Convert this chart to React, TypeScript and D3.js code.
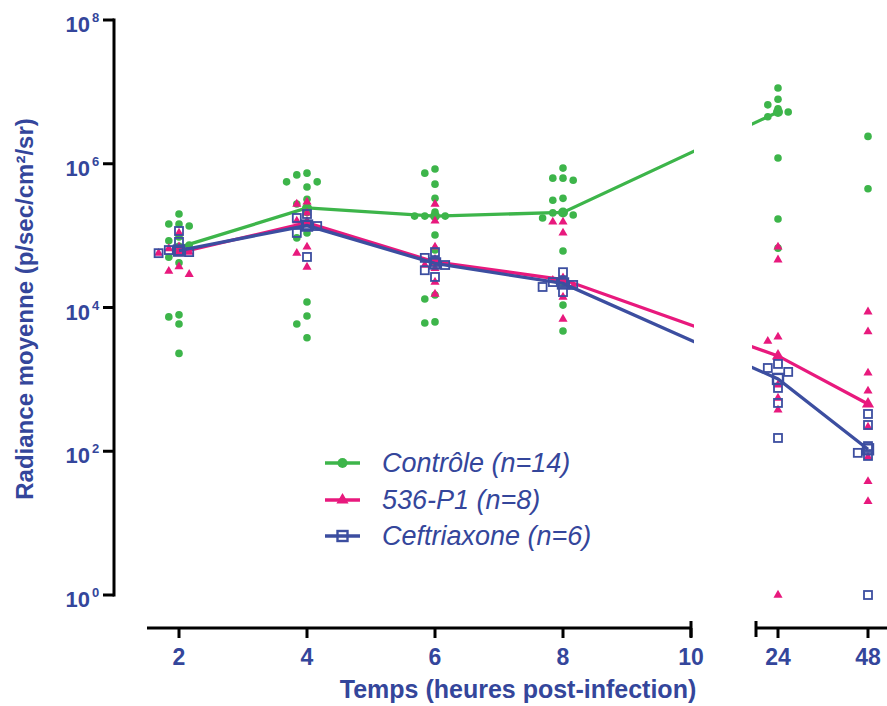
import React from 'react';
import * as d3 from 'd3';

// ---------- data ----------
const timePoints = [2, 4, 6, 8, 24, 48];
const xTicksEarly = [2, 4, 6, 8, 10];
const xTicksLate = [24, 48];
const yTickExponents = [0, 2, 4, 6, 8];

// Contrôle (n=14) – one array of individual radiances per time point
const controle: number[][] = [
  [2.0e5, 1.45e5, 1.36e5, 1.45e5, 9.6e4, 8.5e4, 7.4e4, 6.3e4, 5.0e4, 4.2e4, 7.9e3, 7.4e3, 5.9e3, 2.3e3],
  [7.4e5, 7.0e5, 5.6e5, 5.6e5, 4.75e5, 3.2e5, 2.75e5, 2.1e5, 1.09e5, 9.3e4, 1.19e4, 7.6e3, 5.9e3, 3.8e3],
  [8.45e5, 7.4e5, 5.2e5, 3.3e5, 2.13e5, 1.87e5, 1.87e5, 1.87e5, 1.02e5, 6.3e4, 1.49e4, 1.31e4, 6.3e3, 6.1e3],
  [8.7e5, 6.3e5, 6.3e5, 5.9e5, 3.3e5, 3.1e5, 2.13e5, 2.07e5, 1.94e5, 1.76e5, 6.1e4, 2.2e4, 1.08e4, 4.7e3],
  [1.13e7, 7.9e6, 6.6e6, 5.8e6, 5.25e6, 4.5e6, 1.2e6, 1.7e5, 6.7e4],
  [2.4e6, 4.5e5],
];

// 536-P1 (n=8)
const p536: number[][] = [
  [1.09e5, 7.0e4, 6.6e4, 5.9e4, 5.7e4, 3.7e4, 3.2e4, 2.9e4],
  [2.94e5, 2.75e5, 2.07e5, 1.6e5, 1.42e5, 6.95e4, 5.7e4, 3.66e4],
  [2.75e5, 1.6e5, 6.95e4, 4.7e4, 3.9e4, 3.5e4, 2.26e4, 1.54e4],
  [1.55e5, 1.55e5, 1.09e5, 2.5e4, 2.4e4, 1.99e4, 1.4e4, 6.9e3],
  [6.95e4, 4.6e4, 3.9e3, 3.4e3, 840, 550, 375, 1],
  [8.7e3, 4.6e3, 1.23e3, 690, 217, 83, 38, 20],
];

// Ceftriaxone (n=6)
const ceftriaxone: number[][] = [
  [1.16e5, 8.2e4, 6.3e4, 6.1e4, 5.9e4, 5.7e4],
  [2.0e5, 1.76e5, 1.4e5, 1.36e5, 1.09e5, 5.05e4],
  [5.9e4, 4.9e4, 4.3e4, 3.9e4, 3.3e4, 2.66e4],
  [3.1e4, 2.26e4, 2.26e4, 2.06e4, 1.93e4, 1.64e4],
  [1640, 1440, 1270, 760, 470, 153],
  [330, 232, 118, 95, 86, 1],
];

const seriesLabels = ['Contrôle (n=14)', '536-P1 (n=8)', 'Ceftriaxone (n=6)'];

// ---------- styles ----------
const W = 887;
const H = 706;
const TEXT = '#34469B';
const FONT = '"Liberation Sans", Arial, Helvetica, sans-serif';
const colors = ['#3DB54A', '#E8197D', '#3C4EA0'];
const shapes = ['circle', 'triangle', 'square'];

const y = d3.scaleLog().domain([1, 1e8]).range([595, 20]);
const xA = d3.scaleLinear().domain([2, 10]).range([179, 691]);
const xB = d3.scaleLinear().domain([24, 48]).range([778, 868]);
const xPos = (t: number) => (t <= 10 ? xA(t) : xB(t));

function dodge(vals: number[], step: number, minDist: number) {
  const items = vals.map((v, i) => ({ v, py: y(v), i })).sort((a, b) => a.py - b.py);
  const placed: { py: number; k: number }[] = [];
  const out: { v: number; py: number; dx: number }[] = new Array(vals.length);
  const order = [0, -1, 1, -2, 2, -3, 3, -4, 4];
  for (const it of items) {
    for (const k of order) {
      if (!placed.some((p) => p.k === k && Math.abs(p.py - it.py) < minDist)) {
        placed.push({ py: it.py, k });
        out[it.i] = { v: it.v, py: it.py, dx: k * step };
        break;
      }
    }
  }
  return out;
}

function Marker({ shape, color, cx, cy, big }: { shape: string; color: string; cx: number; cy: number; big?: boolean }) {
  if (shape === 'circle') {
    return <circle cx={cx} cy={cy} r={big ? 5 : 3.8} fill={color} />;
  }
  if (shape === 'triangle') {
    const p = d3.symbol().type(d3.symbolTriangle).size(big ? 64 : 36)()!;
    return <path d={p} transform={`translate(${cx},${cy})`} fill={color} />;
  }
  const s = big ? 10 : 8;
  return (
    <rect x={cx - s / 2} y={cy - s / 2} width={s} height={s} fill="none" stroke={color} strokeWidth={big ? 2.4 : 1.8} />
  );
}

export default function App() {
  const allSeries = [controle, p536, ceftriaxone];
  const line = d3.line<[number, number]>().x((d) => d[0]).y((d) => d[1]);

  return (
    <svg width={W} height={H} style={{ position: 'absolute', left: 0, top: 0, background: '#fff' }} fontFamily={FONT}>
      <defs>
        <clipPath id="gapClip">
          <rect x={0} y={0} width={694} height={H} />
          <rect x={752} y={0} width={W} height={H} />
        </clipPath>
      </defs>

      {/* Y axis */}
      <line x1={114} x2={114} y1={y(1e8) - 1.5} y2={y(1) + 1.5} stroke="#000" strokeWidth={3} />
      {yTickExponents.map((e) => {
        const ty = y(Math.pow(10, e));
        return (
          <g key={e}>
            <line x1={103} x2={114} y1={ty} y2={ty} stroke="#000" strokeWidth={3} />
            <text x={90} y={ty + 12} textAnchor="end" fontSize={22} fontWeight="bold" fill={TEXT}>10</text>
            <text x={92} y={ty + 2} fontSize={13} fontWeight="bold" fill={TEXT}>{e}</text>
          </g>
        );
      })}
      <text
        transform={`translate(33,309) rotate(-90)`}
        textAnchor="middle"
        fontSize={24}
        fontWeight="bold"
        fill={TEXT}
      >
        Radiance moyenne (p/sec/cm²/sr)
      </text>

      {/* X axis, two segments */}
      <line x1={147} x2={xA(10)} y1={628} y2={628} stroke="#000" strokeWidth={3} />
      <line x1={xA(10)} x2={xA(10)} y1={621} y2={637} stroke="#000" strokeWidth={3} />
      <line x1={756} x2={W + 5} y1={628} y2={628} stroke="#000" strokeWidth={3} />
      <line x1={756} x2={756} y1={621} y2={637} stroke="#000" strokeWidth={3} />
      {xTicksEarly.map((t) => (
        <g key={t}>
          <line x1={xA(t)} x2={xA(t)} y1={628} y2={638} stroke="#000" strokeWidth={3} />
          <text x={xA(t)} y={665} textAnchor="middle" fontSize={23} fontWeight="bold" fill={TEXT}>{t}</text>
        </g>
      ))}
      {xTicksLate.map((t) => (
        <g key={t}>
          <line x1={xB(t)} x2={xB(t)} y1={628} y2={638} stroke="#000" strokeWidth={3} />
          <text x={xB(t)} y={665} textAnchor="middle" fontSize={23} fontWeight="bold" fill={TEXT}>{t}</text>
        </g>
      ))}
      <text x={518} y={698} textAnchor="middle" fontSize={25} fontWeight="bold" fill={TEXT}>
        Temps (heures post-infection)
      </text>

      {/* Series */}
      {allSeries.map((series, si) => {
        const color = colors[si];
        const shape = shapes[si];
        const medPts = timePoints
          .map((t, ti) => ({ t, vals: series[ti] }))
          .filter((g) => g.vals.length >= 3)
          .map((g) => [xPos(g.t), y(d3.median(g.vals)!)] as [number, number]);
        return (
          <g key={si}>
            <path d={line(medPts)!} fill="none" stroke={color} strokeWidth={3.3} clipPath="url(#gapClip)" />
            {timePoints.map((t, ti) =>
              dodge(series[ti], 10.2, 9).map((p, pi) => (
                <Marker key={`${ti}-${pi}`} shape={shape} color={color} cx={xPos(t) + p.dx} cy={p.py} />
              ))
            )}
            {medPts.map((p, i) => (
              <Marker key={`m${i}`} shape={shape} color={color} cx={p[0]} cy={p[1]} big />
            ))}
          </g>
        );
      })}

      {/* Legend */}
      {seriesLabels.map((lab, i) => {
        const ly = [463, 500, 536][i];
        return (
          <g key={lab}>
            <line x1={325} x2={360} y1={ly} y2={ly} stroke={colors[i]} strokeWidth={3.3} />
            <Marker shape={shapes[i]} color={colors[i]} cx={342.5} cy={ly} big />
            <text x={382} y={ly + 9} fontSize={27} fontStyle="italic" fill={TEXT}>{lab}</text>
          </g>
        );
      })}
    </svg>
  );
}
